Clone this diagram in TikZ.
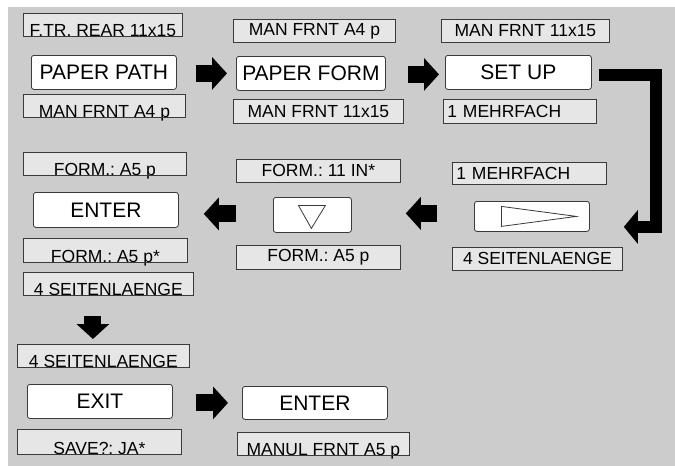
\documentclass[tikz,border=0pt]{standalone}
\usepackage{fontspec}
\setmainfont{Liberation Sans}
\usepackage{tikz}
\usetikzlibrary{arrows.meta,positioning}
\definecolor{panelgray}{HTML}{CCCCCC}
\definecolor{fieldgray}{HTML}{E6E6E6}
\definecolor{framegray}{HTML}{3A3A3A}
\frenchspacing

\begin{document}
\begin{tikzpicture}[
  x=1pt, y=-1pt,
  field/.style 2 args={
    draw=framegray,
    fill=fieldgray,
    line width=0.8pt,
    anchor=north west,
    inner xsep=4pt,
    inner ysep=0pt,
    minimum width=#1,
    minimum height=#2,
    font=\fontsize{17.5}{20}\selectfont
  },
  cutfield/.style 2 args={
    field={#1}{#2},
    text height=#2,
    text depth=0pt
  },
  key/.style 2 args={
    draw=framegray,
    fill=white,
    line width=0.8pt,
    rounded corners=2.5pt,
    anchor=north west,
    inner sep=0pt,
    minimum width=#1,
    minimum height=#2,
    font=\fontsize{21}{24}\selectfont
  },
  blockarrow/.style={line width=17pt, -{Triangle[length=15pt,width=32pt]}},
  bendarrow/.style={line width=12pt, -{Triangle[length=14pt,width=33pt]}}
]

  \useasboundingbox (0,0) rectangle (675,466);
  \fill[panelgray] (8,7) rectangle (675,466);

  % Row 1: paper path -> paper form -> set up
  \node[cutfield={159pt}{23pt}] (ftr) at (23,13) {F.TR. REAR 11x15};
  \node[key={145pt}{34pt}] (path) at (31,55) {PAPER PATH};
  \node[cutfield={162pt}{23pt}] (manleft) at (23,94) {MAN FRNT A4 p};

  \node[field={162pt}{23pt}] (manmidtop) at (233,19) {MAN FRNT A4 p};
  \node[key={149pt}{34pt}] (form) at (236,56) {PAPER FORM};
  \node[field={170pt}{24pt}] (manmidbot) at (233,99) {MAN FRNT 11x15};

  \node[field={168pt}{23pt}] (manright) at (441,19) {MAN FRNT 11x15};
  \node[key={146pt}{34pt}] (setup) at (445,55) {SET UP};
  \node[field={153pt}{24pt}, text width=145pt, align=left] (mehrtop) at (443,99) {1 MEHRFACH};

  % Row 2: next -> down -> enter
  \node[field={154pt}{22pt}, text width=146pt, align=left] (mehrmid) at (452,162) {1 MEHRFACH};
  \node[key={115pt}{30pt}] (next) at (474,201) {};
  \node[field={170pt}{23pt}] (seiteright) at (452,247) {4 SEITENLAENGE};

  \node[field={164pt}{23pt}] (formin) at (236,159) {FORM.: 11 IN*};
  \node[key={78pt}{35pt}] (down) at (273,197) {};
  \node[field={164pt}{24pt}] (formmid) at (236,245) {FORM.: A5 p};

  \node[cutfield={163pt}{23pt}] (formleft) at (23,152) {FORM.: A5 p};
  \node[key={145pt}{35pt}] (enterone) at (33,192) {ENTER};
  \node[cutfield={164pt}{24pt}] (formstar) at (23,238) {FORM.: A5 p*};
  \node[cutfield={170pt}{23pt}] (seiteone) at (23,272) {4 SEITENLAENGE};

  % Row 3: exit -> enter
  \node[cutfield={172pt}{23pt}] (seitetwo) at (17,344) {4 SEITENLAENGE};
  \node[key={145pt}{34pt}] (exit) at (27,384) {EXIT};
  \node[cutfield={164pt}{25pt}] (save) at (17,429) {SAVE?: JA*};
  \node[key={145pt}{33pt}] (entertwo) at (242,386) {ENTER};
  \node[cutfield={172pt}{23pt}] (manul) at (237,432) {MANUL FRNT A5 p};

  % Button symbols
  \draw[framegray, line width=0.8pt, shift={(next.center)}] (-30.5,-10) -- (44.5,0) -- (-30.5,10) -- cycle;
  \draw[framegray, line width=0.8pt, shift={(down.center)}] (-14,-9.5) -- (13,-9.5) -- (-1,13.5) -- cycle;

  % Field edges over the cut texts
  \foreach \n in {ftr,manleft,formleft,formstar,seiteone,seitetwo,save,manul}
    \draw[framegray, line width=0.8pt] (\n.south west) -- (\n.south east);

  % Block arrows
  \draw[blockarrow, shorten <=19pt, shorten >=9pt] ([yshift=-1pt]path.east) -- (form.west);
  \draw[blockarrow, shorten <=22pt, shorten >=6pt] ([yshift=-1pt]form.east) -- ([yshift=-2pt]setup.west);
  \draw[bendarrow] ([xshift=7pt, yshift=-2.5pt]setup.east) -| ([xshift=66pt, yshift=-10.5pt]next.east) -- ([xshift=34pt, yshift=-10.5pt]next.east);
  \draw[blockarrow, shorten <=37pt, shorten >=54pt] ([yshift=3pt]next.west) -- ([yshift=1.5pt]down.east);
  \draw[blockarrow, shorten <=37pt, shorten >=25pt] ([yshift=1pt]down.west) -- ([yshift=-4pt]enterone.east);
  \draw[blockarrow, shorten <=20pt, shorten >=5pt] ([xshift=-15.5pt]seiteone.south) -- ([xshift=-10.5pt]seitetwo.north);
  \draw[blockarrow, shorten <=23pt, shorten >=14pt] ([yshift=-1.5pt]exit.east) -- (entertwo.west);

\end{tikzpicture}
\end{document}
